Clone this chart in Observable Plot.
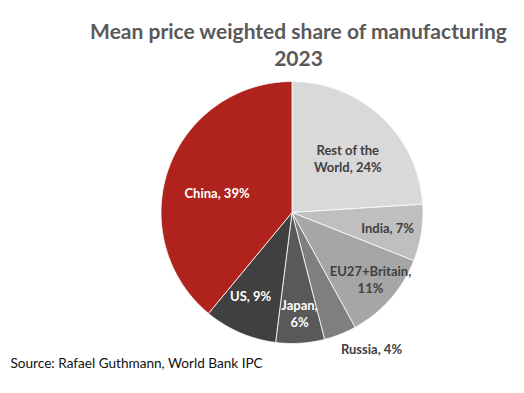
<!DOCTYPE html>
<html>
<head>
<meta charset="utf-8">
<script src="https://cdn.jsdelivr.net/npm/d3@7"></script>
<script src="https://cdn.jsdelivr.net/npm/@observablehq/plot@0.6"></script>
<style>
  html, body { margin: 0; padding: 0; background: #ffffff; }
  #chart { width: 524px; height: 393px; overflow: hidden; }
</style>
</head>
<body>
<div id="chart"></div>
<script>
// Data, clockwise from 12 o'clock
const categories = ["Rest of the World", "India", "EU27+Britain", "Russia", "Japan", "US", "China"];
const shares = [24, 7, 11, 4, 6, 9, 39];
const labelLines = [
  ["Rest of the", "World, 24%"],
  ["India, 7%"],
  ["EU27+Britain,", "11%"],
  ["Russia, 4%"],
  ["Japan,", "6%"],
  ["US, 9%"],
  ["China, 39%"]
];
const colors = ["#d9d9d9", "#bfbfbf", "#a6a6a6", "#7f7f7f", "#595959", "#404040", "#b0231c"];
const labelColors = ["#404040", "#404040", "#404040", "#404040", "#ffffff", "#ffffff", "#ffffff"];
// label anchor: fraction of radius from center, and angle offset (deg) from slice middle
const labelRadius = [0.59, 0.74, 0.79, 1.21, 0.78, 0.72, 0.59];
const labelAngleShift = [3, 0.5, -0.7, -8.5, -0.6, 2.6, -5.7];
const title = ["Mean price weighted share of manufacturing", "2023"];
const source = "Source: Rafael Guthmann, World Bank IPC";

const pie = d3.pie().sort(null).value(d => d)(shares);

// polygon points for each slice
const poly = [];
pie.forEach((p, i) => {
  const n = Math.max(4, Math.ceil((p.endAngle - p.startAngle) / 0.01));
  poly.push({name: categories[i], x: 0, y: 0});
  for (let k = 0; k <= n; k++) {
    const a = p.startAngle + (p.endAngle - p.startAngle) * k / n;
    poly.push({name: categories[i], x: Math.sin(a), y: Math.cos(a)});
  }
  poly.push({name: categories[i], x: 0, y: 0});
});

const lineH = 0.13;
const labels = [];
pie.forEach((p, i) => {
  const a = (p.startAngle + p.endAngle) / 2 + labelAngleShift[i] * Math.PI / 180;
  const r = labelRadius[i];
  const cx = r * Math.sin(a), cy = r * Math.cos(a);
  const lines = labelLines[i];
  lines.forEach((t, j) => {
    labels.push({text: t, x: cx, y: cy - (j - (lines.length - 1) / 2) * lineH, color: labelColors[i]});
  });
});

const chart = Plot.plot({
  width: 524,
  height: 393,
  marginLeft: 160.5,
  marginRight: 101.5,
  marginTop: 81,
  marginBottom: 50,
  x: {domain: [-1, 1], axis: null},
  y: {domain: [-1, 1], axis: null},
  color: {domain: categories, range: colors},
  style: {fontFamily: "Lato, 'Open Sans', sans-serif", background: "#ffffff"},
  marks: [
    Plot.line(poly, {x: "x", y: "y", z: "name", fill: "name", stroke: "#ffffff", strokeWidth: 0.8, curve: "linear"}),
    Plot.text(labels, {x: "x", y: "y", text: "text", fill: "color", fontSize: 13, fontWeight: 700}),
    Plot.text([title[0]], {frameAnchor: "top", dx: 6.5, dy: -57, text: d => d, fontSize: 21, fontWeight: 700, fill: "#595959"}),
    Plot.text([title[1]], {frameAnchor: "top", dx: 6.5, dy: -30, text: d => d, fontSize: 21, fontWeight: 700, fill: "#595959"}),
    Plot.text([source], {frameAnchor: "bottom-left", dx: -150.5, dy: 24, text: d => d, textAnchor: "start", fontSize: 13.6, fill: "#111111"})
  ]
});
document.getElementById("chart").appendChild(chart);
</script>
</body>
</html>
